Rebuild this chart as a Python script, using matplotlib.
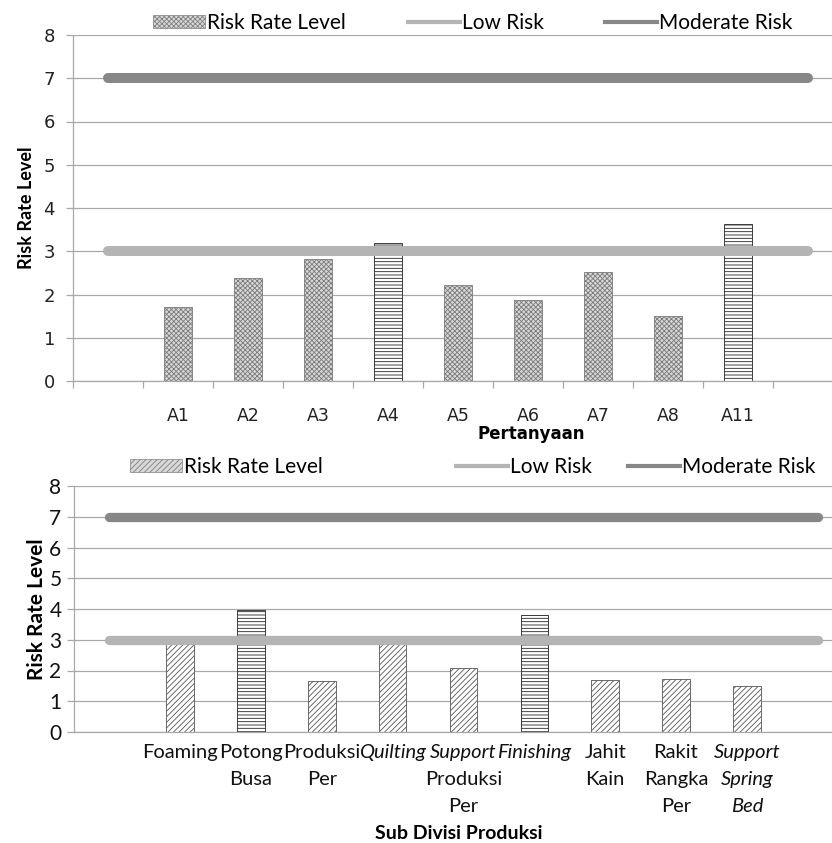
import numpy as np
import matplotlib
matplotlib.use('Agg')
import matplotlib.pyplot as plt
from matplotlib.patches import Patch
from matplotlib.lines import Line2D

# data
top_cats = ['', 'A1', 'A2', 'A3', 'A4', 'A5', 'A6', 'A7', 'A8', 'A11', '']
top_vals = [np.nan, 1.72, 2.37, 2.81, 3.19, 2.22, 1.88, 2.53, 1.51, 3.62, np.nan]
top_low = [3, 3, 3, 3, 3, 3, 3, 3, 3, 3, 3]
top_mod = [7, 7, 7, 7, 7, 7, 7, 7, 7, 7, 7]

bot_cats = ['', 'Foaming', 'Potong\nBusa', 'Produksi\nPer', 'Quilting', 'Support\nProduksi\nPer',
            'Finishing', 'Jahit\nKain', 'Rakit\nRangka\nPer', 'Support\nSpring\nBed', '']
# which lines of each label are italic
bot_italic = [[], [], [], [], [0], [0], [0], [], [], [0, 1, 2], []]
bot_vals = [np.nan, 2.87, 3.96, 1.66, 2.87, 2.08, 3.81, 1.69, 1.72, 1.5, np.nan]
bot_low = [3, 3, 3, 3, 3, 3, 3, 3, 3, 3, 3]
bot_mod = [7, 7, 7, 7, 7, 7, 7, 7, 7, 7, 7]

yticks = [0, 1, 2, 3, 4, 5, 6, 7, 8]

LOW = '#b4b4b4'
MOD = '#878787'
GRID = '#a8a8a8'
NARROW = ['Lato', 'DejaVu Sans']

plt.rcParams['hatch.linewidth'] = 0.6

fig = plt.figure(figsize=(8.32, 8.43), dpi=100)


def style_axes(ax):
    ax.set_ylim(0, 8)
    ax.set_yticks(yticks)
    ax.grid(axis='y', color=GRID, lw=0.9)
    ax.set_axisbelow(True)
    for s in ['top', 'right']:
        ax.spines[s].set_visible(False)
    for s in ['left', 'bottom']:
        ax.spines[s].set_color(GRID)
        ax.spines[s].set_linewidth(0.9)
    ax.tick_params(axis='y', length=5, color=GRID, width=0.9)


def add_legend(y, xs, patch_hatch, fs):
    handles = [
        Patch(facecolor='#d8d8d8', edgecolor='#808080', hatch=patch_hatch, lw=0.5),
        Line2D([], [], color=LOW, lw=3),
        Line2D([], [], color=MOD, lw=3),
    ]
    names = ['Risk Rate Level', 'Low Risk', 'Moderate Risk']
    for h, n, x in zip(handles, names, xs):
        fig.legend([h], [n], loc='center left', bbox_to_anchor=(x / 832, 1 - y / 843),
                   frameon=False, borderpad=0, borderaxespad=0, handlelength=2.5,
                   handleheight=0.6, handletextpad=0.1,
                   prop={'family': NARROW, 'size': fs})


# ---- top chart ----
ax1 = fig.add_axes([73 / 832, 1 - 381 / 843, 770 / 832, 346 / 843])
style_axes(ax1)
x1 = np.arange(len(top_cats))
vals1 = np.array(top_vals)
above1 = vals1 > np.array(top_low)
ax1.bar(x1[~above1], vals1[~above1], width=0.41, color='#d8d8d8', edgecolor='#7a7a7a',
        hatch='xxxxxxx', lw=0.6, zorder=2)
ax1.bar(x1[above1], vals1[above1], width=0.41, color='white', edgecolor='#222222',
        hatch='-----', lw=0.6, zorder=2)
ax1.plot(x1, top_low, color=LOW, lw=7.2, solid_capstyle='round', zorder=3)
ax1.plot(x1, top_mod, color=MOD, lw=7.2, solid_capstyle='round', zorder=3)
ax1.set_xlim(-0.5, len(top_cats) - 0.5)
ax1.set_xticks(np.arange(len(top_cats) + 1) - 0.5, minor=False)
ax1.set_xticklabels([])
ax1.set_xticks(x1, minor=True)
ax1.set_xticklabels(top_cats, minor=True, fontsize=12.5, color='#222222')
ax1.tick_params(axis='x', which='major', length=5, color=GRID, width=0.9, direction='out')
ax1.tick_params(axis='x', which='minor', length=0, pad=19)
ax1.tick_params(axis='y', labelsize=13, pad=8, labelcolor='#222222')
ax1.set_ylabel('Risk Rate Level', fontsize=13, fontweight='bold', family=NARROW, labelpad=6)
ax1.set_xlabel('Pertanyaan', fontsize=12, fontweight='bold')
ax1.xaxis.set_label_coords(458 / 770, -44 / 346)
add_legend(23, [153, 408, 605], 'xxxxxxx', 15)

# ---- bottom chart ----
ax2 = fig.add_axes([74 / 832, 1 - 732 / 843, 779 / 832, 246 / 843])
style_axes(ax2)
x2 = np.arange(len(bot_cats))
vals2 = np.array(bot_vals)
above2 = vals2 > np.array(bot_low)
ax2.bar(x2[~above2], vals2[~above2], width=0.39, color='white', edgecolor='#555555',
        hatch='//////', lw=0.6, zorder=2)
ax2.bar(x2[above2], vals2[above2], width=0.39, color='white', edgecolor='#222222',
        hatch='-----', lw=0.6, zorder=2)
ax2.plot(x2, bot_low, color=LOW, lw=6.7, solid_capstyle='round', zorder=3)
ax2.plot(x2, bot_mod, color=MOD, lw=6.7, solid_capstyle='round', zorder=3)
ax2.set_xlim(-0.5, len(bot_cats) - 0.5)
ax2.set_xticks([])
ax2.tick_params(axis='y', labelsize=15, pad=4, labelcolor='#111111')
for lab in ax2.get_yticklabels():
    lab.set_family(NARROW)
for i, (name, ital) in enumerate(zip(bot_cats, bot_italic)):
    for j, part in enumerate(name.split('\n')):
        if not part:
            continue
        ax2.annotate(part, xy=(i, 0), xycoords=('data', 'axes fraction'),
                     xytext=(0, -15 - 19.5 * j), textcoords='offset points',
                     ha='center', va='center', fontsize=14.5, family=NARROW,
                     style='italic' if j in ital else 'normal', color='#111111')
ax2.set_ylabel('Risk Rate Level', fontsize=15, fontweight='bold', family=NARROW, labelpad=2)
ax2.set_xlabel('Sub Divisi Produksi', fontsize=14, fontweight='bold', family=NARROW)
ax2.xaxis.set_label_coords(385 / 779, -93 / 246)
add_legend(467, [130, 456, 628], '//////', 15)

fig.savefig('out.png', dpi=100)
